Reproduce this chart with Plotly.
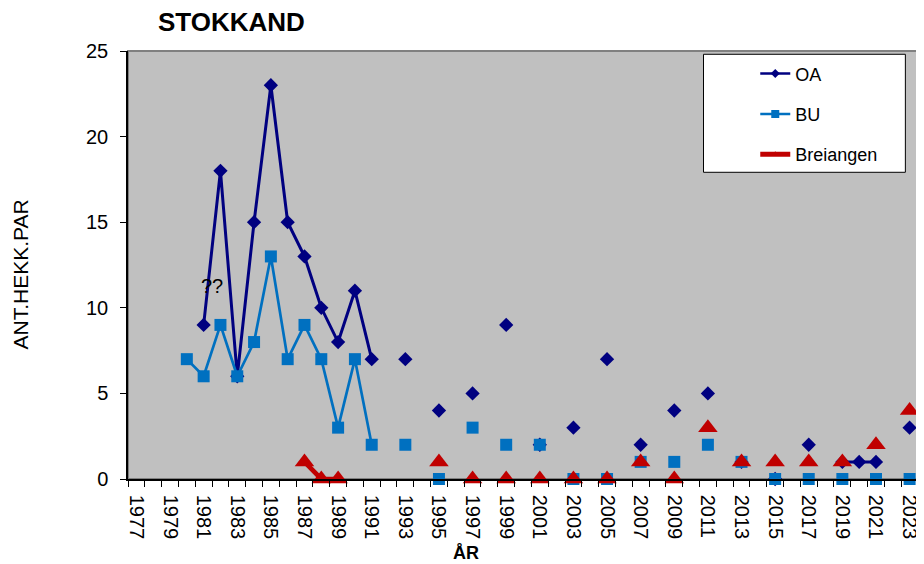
import plotly.graph_objects as go

years = [1977, 1978, 1979, 1980, 1981, 1982, 1983, 1984, 1985, 1986,
         1987, 1988, 1989, 1990, 1991, 1992, 1993, 1994, 1995, 1996,
         1997, 1998, 1999, 2000, 2001, 2002, 2003, 2004, 2005, 2006,
         2007, 2008, 2009, 2010, 2011, 2012, 2013, 2014, 2015, 2016,
         2017, 2018, 2019, 2020, 2021, 2022, 2023]

oa = [None, None, None, None, 9, 18, 6, 15, 23, 15,
      13, 10, 8, 11, 7, None, 7, None, 4, None,
      5, None, 9, None, 2, None, 3, None, 7, None,
      2, None, 4, None, 5, None, 1, None, 0, None,
      2, None, 1, 1, 1, None, 3]

bu = [None, None, None, 7, 6, 9, 6, 8, 13, 7,
      9, 7, 3, 7, 2, None, 2, None, 0, None,
      3, None, 2, None, 2, None, 0, None, 0, None,
      1, None, 1, None, 2, None, 1, None, 0, None,
      0, None, 0, None, 0, None, 0]

breiangen = [None, None, None, None, None, None, None, None, None, None,
             1, 0, 0, None, None, None, None, None, 1, None,
             0, None, 0, None, 0, None, 0, None, 0, None,
             1, None, 0, None, 3, None, 1, None, 1, None,
             1, None, 1, None, 2, None, 4]

series_names = ["OA", "BU", "Breiangen"]
year_labels = [str(y) for y in years if y % 2 == 1]
y_ticks = [0, 5, 10, 15, 20, 25]

FONT = "Liberation Sans, Arial, sans-serif"
C_OA, C_BU, C_BR = "#000080", "#0070C0", "#C00000"

fig = go.Figure()
# data traces
fig.add_trace(go.Scatter(
    x=years, y=oa, name=series_names[0], mode="lines+markers",
    line=dict(color=C_OA, width=3),
    marker=dict(symbol="diamond", size=11, color=C_OA),
    connectgaps=False, cliponaxis=False, showlegend=False))
fig.add_trace(go.Scatter(
    x=years, y=bu, name=series_names[1], mode="lines+markers",
    line=dict(color=C_BU, width=2.7),
    marker=dict(symbol="square", size=12, color=C_BU),
    connectgaps=False, cliponaxis=False, showlegend=False))
fig.add_trace(go.Scatter(
    x=years, y=breiangen, name=series_names[2], mode="lines+markers",
    line=dict(color=C_BR, width=4.7),
    marker=dict(symbol="triangle-up", size=17, color=C_BR),
    connectgaps=False, cliponaxis=False, showlegend=False))
# legend entries (smaller symbols, as in the reference legend)
fig.add_trace(go.Scatter(
    x=[None], y=[None], name=series_names[0], mode="lines+markers",
    line=dict(color=C_OA, width=2.5), marker=dict(symbol="diamond", size=7, color=C_OA),
    legendgroup="a"))
fig.add_trace(go.Scatter(
    x=[None], y=[None], name=series_names[1], mode="lines+markers",
    line=dict(color=C_BU, width=2.5), marker=dict(symbol="square", size=8, color=C_BU),
    legendgroup="b"))
fig.add_trace(go.Scatter(
    x=[None], y=[None], name=series_names[2], mode="lines+markers",
    line=dict(color=C_BR, width=5), marker=dict(symbol="triangle-up", size=6, color=C_BR),
    legendgroup="c"))

# the page body adds an 8px offset, so margins are reduced by 8px on top/left
fig.update_layout(
    width=924, height=564,
    margin=dict(l=120, r=11, t=43, b=93),
    paper_bgcolor="white", plot_bgcolor="#C0C0C0",
    font=dict(family=FONT, size=20, color="black"),
    showlegend=True,
    legend=dict(
        x=0.794, y=0.99, xanchor="left", yanchor="top",
        bgcolor="rgba(0,0,0,0)", borderwidth=0,
        font=dict(size=18), tracegroupgap=14),
    xaxis=dict(
        range=[1976.5, 2023.5], showgrid=False, zeroline=False,
        showline=True, linecolor="black", linewidth=1.5,
        tickvals=[y for y in years if y % 2 == 1], ticktext=year_labels,
        tickangle=90, ticks="", ticklabelstandoff=10,
        ticklabeloverflow="allow",
        tickfont=dict(size=20),
        minor=dict(tickvals=[y - 0.5 for y in years] + [2023.5],
                   ticks="outside", ticklen=6, tickcolor="black", tickwidth=1)),
    yaxis=dict(
        range=[0, 25], showgrid=False, zeroline=False,
        showline=True, linecolor="black", linewidth=1.5,
        tickvals=y_ticks, ticks="outside", ticklen=6, tickcolor="black",
        ticklabelstandoff=8, tickfont=dict(size=20)),
    shapes=[
        dict(type="rect", xref="paper", yref="paper", x0=0, x1=1, y0=0, y1=1,
             line=dict(color="#808080", width=2), layer="below"),
        dict(type="rect", xref="paper", yref="paper", x0=0.7285, x1=0.984,
             y0=0.7166, y1=0.9923, fillcolor="white",
             line=dict(color="black", width=1), layer="above"),
    ],
    annotations=[
        dict(text="<b>STOKKAND</b>", xref="paper", yref="paper", x=0.131, y=1.0,
             yshift=29, showarrow=False, font=dict(size=26), xanchor="center", yanchor="middle"),
        dict(text="ANT.HEKK.PAR", xref="paper", yref="paper", x=-0.136, y=0.477,
             showarrow=False, textangle=-90, font=dict(size=21), xanchor="center", yanchor="middle"),
        dict(text="<b>ÅR</b>", xref="paper", yref="paper", x=0.4275, y=0,
             yshift=-74, showarrow=False, font=dict(size=18), xanchor="center", yanchor="middle"),
        dict(text="??", x=1981.5, y=11.3, showarrow=False, font=dict(size=20),
             xanchor="center", yanchor="middle"),
    ],
)

fig.write_html("out.html")
